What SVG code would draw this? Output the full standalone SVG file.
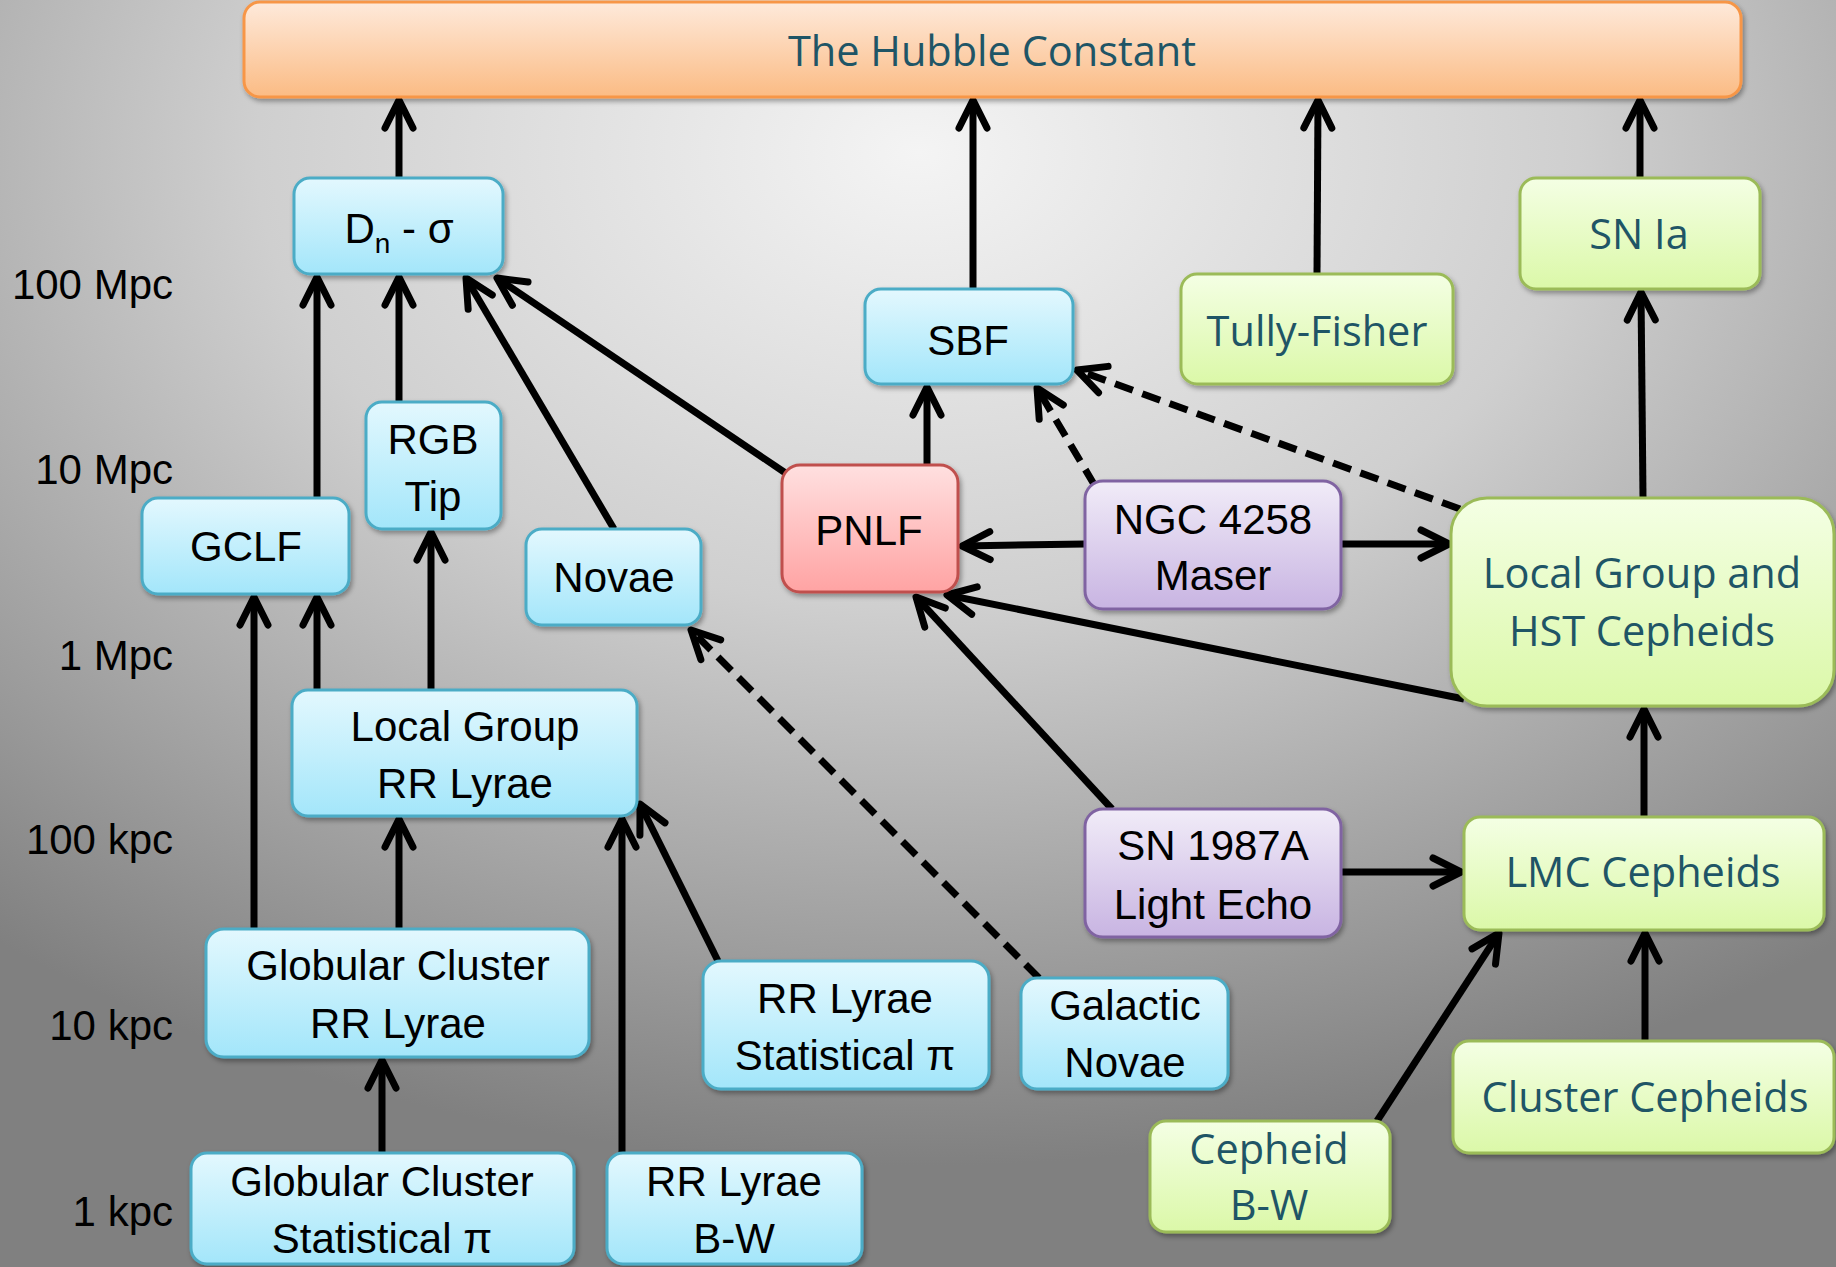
<svg xmlns="http://www.w3.org/2000/svg" width="1836" height="1267" viewBox="0 0 1836 1267">
<defs>
<radialGradient id="bg" cx="50%" cy="12%" r="80%" fx="50%" fy="12%">
<stop offset="0" stop-color="#f4f4f4"/>
<stop offset="0.45" stop-color="#cfcfcf"/>
<stop offset="1" stop-color="#808080"/>
</radialGradient>
<linearGradient id="gBlue" x1="0" y1="0" x2="0" y2="1"><stop offset="0" stop-color="#e3f8fe"/><stop offset="1" stop-color="#a3e6fa"/></linearGradient>
<linearGradient id="gGreen" x1="0" y1="0" x2="0" y2="1"><stop offset="0" stop-color="#f4ffe4"/><stop offset="1" stop-color="#dbf8a8"/></linearGradient>
<linearGradient id="gPurple" x1="0" y1="0" x2="0" y2="1"><stop offset="0" stop-color="#f1ecf8"/><stop offset="1" stop-color="#c8b4e2"/></linearGradient>
<linearGradient id="gRed" x1="0" y1="0" x2="0" y2="1"><stop offset="0" stop-color="#ffe0e0"/><stop offset="1" stop-color="#ffa3a3"/></linearGradient>
<linearGradient id="gOrange" x1="0" y1="0" x2="0" y2="1"><stop offset="0" stop-color="#feeadb"/><stop offset="1" stop-color="#fbbb84"/></linearGradient>
<filter id="sh" x="-10%" y="-10%" width="120%" height="130%">
<feDropShadow dx="2" dy="3" stdDeviation="2.5" flood-color="#000" flood-opacity="0.35"/>
</filter>
<marker id="arr" markerUnits="userSpaceOnUse" markerWidth="60" markerHeight="60" refX="0" refY="0" orient="auto" overflow="visible">
<path d="M -28,-14 L 0,0 L -28,14" fill="none" stroke="#000" stroke-width="7" stroke-linecap="round" stroke-linejoin="round"/>
</marker>
<style>
.blue{fill:url(#gBlue);stroke:#4bacc6;stroke-width:3}
.green{fill:url(#gGreen);stroke:#9bbb59;stroke-width:3}
.purple{fill:url(#gPurple);stroke:#8064a2;stroke-width:3}
.red{fill:url(#gRed);stroke:#c0504d;stroke-width:3}
.orange{fill:url(#gOrange);stroke:#f79646;stroke-width:3}
.n rect{filter:url(#sh)}
.t{font-family:"Liberation Sans",Arial,sans-serif;font-size:42px;fill:#000;text-anchor:middle}
.tt{font-family:"Open Sans","Noto Sans",sans-serif;font-size:41.5px;fill:#1f5566;text-anchor:middle}
.ax{font-family:"Liberation Sans",Arial,sans-serif;font-size:42px;fill:#000;text-anchor:end}
.c{fill:none;stroke:#000;stroke-width:7;marker-end:url(#arr)}
.d{stroke-dasharray:19 10}
</style>
</defs>
<rect x="0" y="0" width="1836" height="1267" fill="url(#bg)"/>

<g id="axis">
<text class="ax" x="173" y="299">100 Mpc</text>
<text class="ax" x="173" y="484">10 Mpc</text>
<text class="ax" x="173" y="670">1 Mpc</text>
<text class="ax" x="173" y="854">100 kpc</text>
<text class="ax" x="173" y="1040">10 kpc</text>
<text class="ax" x="173" y="1226">1 kpc</text>
</g>

<g id="connectors">
<line class="c" x1="399" y1="178" x2="399" y2="100"/>
<line class="c" x1="973" y1="289" x2="973" y2="100"/>
<line class="c" x1="1317" y1="274" x2="1318" y2="100"/>
<line class="c" x1="1640" y1="178" x2="1640" y2="100"/>
<line class="c" x1="317" y1="498" x2="317" y2="277"/>
<line class="c" x1="399" y1="402" x2="399" y2="277"/>
<line class="c" x1="614" y1="529" x2="466" y2="278"/>
<line class="c" x1="787" y1="474" x2="497" y2="278"/>
<line class="c" x1="927" y1="465" x2="927" y2="387"/>
<line class="c d" x1="1095" y1="486" x2="1037" y2="388"/>
<line class="c d" x1="1460" y1="509" x2="1077" y2="370"/>
<line class="c" x1="1085" y1="544" x2="962" y2="546"/>
<line class="c" x1="1341" y1="544" x2="1449" y2="544"/>
<line class="c" x1="1464" y1="699" x2="947" y2="595"/>
<line class="c" x1="1112" y1="809" x2="916" y2="597"/>
<line class="c" x1="1341" y1="872" x2="1461" y2="872"/>
<line class="c" x1="1644" y1="817" x2="1644" y2="709"/>
<line class="c" x1="1643" y1="498" x2="1641" y2="292"/>
<line class="c" x1="1645" y1="1041" x2="1645" y2="933"/>
<line class="c" x1="1377" y1="1121" x2="1499" y2="933"/>
<line class="c d" x1="1039" y1="978" x2="691" y2="630"/>
<line class="c" x1="254" y1="929" x2="254" y2="597"/>
<line class="c" x1="317" y1="690" x2="317" y2="597"/>
<line class="c" x1="431" y1="690" x2="431" y2="532"/>
<line class="c" x1="399" y1="929" x2="399" y2="819"/>
<line class="c" x1="622" y1="1153" x2="622" y2="819"/>
<line class="c" x1="718" y1="961" x2="640" y2="804"/>
<line class="c" x1="382" y1="1153" x2="382" y2="1060"/>
</g>

<g class="n" id="hubble"><rect class="orange" x="244" y="2" width="1497" height="95" rx="16"/><text class="tt" x="992" y="66">The Hubble Constant</text></g>
<g class="n" id="dn-sigma"><rect class="blue" x="294" y="178" width="209" height="96" rx="16"/><text class="t" x="399" y="243">D<tspan font-size="28" dy="10">n</tspan><tspan dy="-10"> - σ</tspan></text></g>
<g class="n" id="sbf"><rect class="blue" x="865" y="289" width="208" height="95" rx="16"/><text class="t" x="968" y="355">SBF</text></g>
<g class="n" id="tully-fisher"><rect class="green" x="1181" y="274" width="272" height="110" rx="16"/><text class="tt" x="1317" y="346">Tully-Fisher</text></g>
<g class="n" id="sn-ia"><rect class="green" x="1520" y="178" width="240" height="111" rx="16"/><text class="tt" x="1639" y="249">SN Ia</text></g>
<g class="n" id="rgb-tip"><rect class="blue" x="366" y="402" width="135" height="127" rx="16"/><text class="t" x="433" y="454">RGB</text><text class="t" x="433" y="511">Tip</text></g>
<g class="n" id="gclf"><rect class="blue" x="142" y="498" width="207" height="96" rx="16"/><text class="t" x="246" y="561">GCLF</text></g>
<g class="n" id="novae"><rect class="blue" x="526" y="529" width="175" height="96" rx="16"/><text class="t" x="614" y="592">Novae</text></g>
<g class="n" id="pnlf"><rect class="red" x="782" y="465" width="176" height="127" rx="18"/><text class="t" x="869" y="545">PNLF</text></g>
<g class="n" id="ngc4258"><rect class="purple" x="1085" y="481" width="256" height="128" rx="18"/><text class="t" x="1213" y="534">NGC 4258</text><text class="t" x="1213" y="590">Maser</text></g>
<g class="n" id="lg-hst-cepheids"><rect class="green" x="1451" y="498" width="383" height="208" rx="36"/><text class="tt" x="1642" y="588">Local Group and</text><text class="tt" x="1642" y="646">HST Cepheids</text></g>
<g class="n" id="lg-rr-lyrae"><rect class="blue" x="292" y="690" width="345" height="126" rx="16"/><text class="t" x="465" y="741">Local Group</text><text class="t" x="465" y="798">RR Lyrae</text></g>
<g class="n" id="sn1987a"><rect class="purple" x="1085" y="809" width="256" height="128" rx="18"/><text class="t" x="1213" y="860">SN 1987A</text><text class="t" x="1213" y="919">Light Echo</text></g>
<g class="n" id="lmc-cepheids"><rect class="green" x="1464" y="817" width="360" height="113" rx="16"/><text class="tt" x="1643" y="887">LMC Cepheids</text></g>
<g class="n" id="gc-rr-lyrae"><rect class="blue" x="206" y="929" width="383" height="128" rx="18"/><text class="t" x="398" y="980">Globular Cluster</text><text class="t" x="398" y="1038">RR Lyrae</text></g>
<g class="n" id="rr-lyrae-stat"><rect class="blue" x="703" y="961" width="286" height="128" rx="18"/><text class="t" x="845" y="1013">RR Lyrae</text><text class="t" x="845" y="1070">Statistical π</text></g>
<g class="n" id="galactic-novae"><rect class="blue" x="1021" y="978" width="207" height="111" rx="16"/><text class="t" x="1125" y="1020">Galactic</text><text class="t" x="1125" y="1077">Novae</text></g>
<g class="n" id="cluster-cepheids"><rect class="green" x="1453" y="1041" width="381" height="112" rx="16"/><text class="tt" x="1645" y="1112">Cluster Cepheids</text></g>
<g class="n" id="cepheid-bw"><rect class="green" x="1150" y="1121" width="240" height="111" rx="16"/><text class="tt" x="1269" y="1164">Cepheid</text><text class="tt" x="1269" y="1220">B-W</text></g>
<g class="n" id="gc-stat"><rect class="blue" x="191" y="1153" width="383" height="111" rx="16"/><text class="t" x="382" y="1196">Globular Cluster</text><text class="t" x="382" y="1253">Statistical π</text></g>
<g class="n" id="rr-lyrae-bw"><rect class="blue" x="607" y="1153" width="255" height="111" rx="16"/><text class="t" x="734" y="1196">RR Lyrae</text><text class="t" x="734" y="1253">B-W</text></g>
</svg>
